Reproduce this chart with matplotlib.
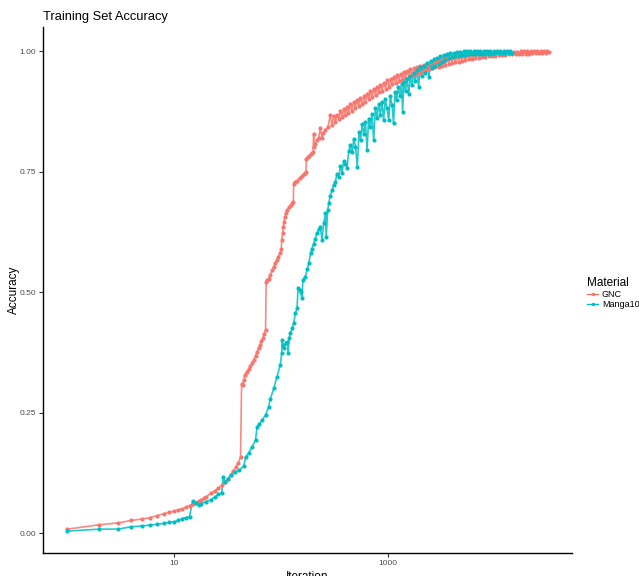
import matplotlib
matplotlib.use("Agg")
import matplotlib.pyplot as plt
from matplotlib.lines import Line2D

materials = ["GNC", "Manga109"]
colors = ["#F8766D", "#00BFC4"]

gnc_iter = [1, 2, 3, 4, 5, 6, 7, 8, 9, 10, 11, 12, 13, 14, 15, 16, 17, 18, 19, 20,
            22, 24, 26, 28, 30, 32, 34, 36, 38, 40, 42, 43, 44, 45, 46, 48, 50, 52, 54, 56,
            58, 60, 62, 64, 66, 68, 70, 72, 73, 75, 77, 80, 83, 86, 89, 92, 95, 98, 101, 102,
            104, 106, 107, 109, 111, 115, 120, 124, 128, 131, 132, 135, 142, 150, 158, 165, 170, 172, 174, 178,
            183, 190, 196, 200, 203, 205, 211, 218, 226, 234, 243, 250, 262, 275, 291, 300,
            312, 324, 337, 350, 362, 375, 390, 402, 415, 430, 445, 460, 480, 499, 515, 535,
            555, 577, 600, 620, 640, 664, 690, 715, 740, 770, 795, 824, 855, 885, 920, 955,
            990, 1030, 1065, 1100, 1140, 1185, 1230, 1275, 1320, 1370, 1415, 1465, 1520, 1575, 1635, 1695,
            1755, 1820, 1885, 1950, 2020, 2095, 2170, 2250, 2330, 2415, 2505, 2600, 2690, 2790, 2890, 3000,
            3110, 3220, 3340, 3460, 3590, 3720, 3860, 4000, 4150, 4300, 4460, 4620, 4790, 4950, 5150, 5330,
            5530, 5730, 5940, 6160, 6380, 6620, 6860, 7100, 7360, 7630, 7910, 8200, 8500, 8820, 9140, 9480,
            9830, 10200, 10570, 10960, 11360, 11780, 12210, 12660, 13130, 13610, 14110, 14630, 15170, 15730, 16310, 16910,
            17530, 18180, 18850, 19540, 20260, 21010, 21780, 22580, 23410, 24270, 25170, 26090, 27050, 28050, 29080, 30150,
            31260, 32000]
gnc_acc = [0.008, 0.017, 0.021, 0.026, 0.029, 0.032, 0.036, 0.040, 0.043, 0.045, 0.048, 0.050, 0.053, 0.057, 0.060, 0.063, 0.066, 0.069, 0.072, 0.075,
           0.082, 0.087, 0.093, 0.099, 0.105, 0.112, 0.120, 0.129, 0.137, 0.146, 0.158, 0.310, 0.308, 0.318, 0.328, 0.335, 0.340, 0.346, 0.352, 0.360,
           0.368, 0.376, 0.384, 0.391, 0.398, 0.405, 0.413, 0.421, 0.521, 0.525, 0.528, 0.536, 0.545, 0.553, 0.560, 0.567, 0.573, 0.580, 0.589, 0.608,
           0.622, 0.636, 0.645, 0.656, 0.663, 0.670, 0.677, 0.681, 0.684, 0.687, 0.725, 0.729, 0.731, 0.737, 0.741, 0.744, 0.746, 0.750, 0.777, 0.780,
           0.782, 0.786, 0.788, 0.790, 0.829, 0.800, 0.808, 0.815, 0.820, 0.840, 0.820, 0.830, 0.836, 0.842, 0.867, 0.846,
           0.866, 0.852, 0.868, 0.860, 0.876, 0.864, 0.880, 0.868, 0.884, 0.872, 0.890, 0.876, 0.894, 0.882, 0.898, 0.886,
           0.902, 0.890, 0.907, 0.895, 0.912, 0.900, 0.917, 0.904, 0.922, 0.908, 0.926, 0.915, 0.930, 0.918, 0.934, 0.922,
           0.940, 0.926, 0.943, 0.932, 0.946, 0.934, 0.950, 0.938, 0.953, 0.941, 0.956, 0.944, 0.959, 0.947, 0.962, 0.950,
           0.964, 0.952, 0.967, 0.955, 0.969, 0.957, 0.972, 0.960, 0.974, 0.962, 0.976, 0.964, 0.978, 0.966, 0.980, 0.968,
           0.982, 0.970, 0.983, 0.972, 0.985, 0.974, 0.986, 0.976, 0.988, 0.977, 0.989, 0.978, 0.990, 0.980, 0.991, 0.981,
           0.992, 0.983, 0.993, 0.984, 0.994, 0.985, 0.995, 0.986, 0.995, 0.987, 0.996, 0.988, 0.996, 0.989, 0.997, 0.990,
           0.997, 0.990, 0.998, 0.991, 0.998, 0.992, 0.998, 0.992, 0.999, 0.993, 0.999, 0.993, 0.999, 0.994, 0.999, 0.994,
           1.000, 0.995, 1.000, 0.995, 1.000, 0.995, 1.000, 0.996, 1.000, 0.996, 1.000, 0.996, 1.000, 0.997, 1.000, 0.997,
           1.000, 0.998]

manga_iter = [1, 2, 3, 4, 5, 6, 7, 8, 9, 10, 11, 12, 13, 14, 15, 16, 17, 18, 20, 22,
              24, 26, 28, 29, 30, 32, 34, 37, 41, 45, 47, 50, 54, 58, 60, 63, 67, 72, 77, 80,
              86, 92, 99, 102, 103, 105, 107, 111, 115, 117, 120, 123, 128, 132, 137, 142, 145, 150, 153, 158,
              161, 170, 177, 183, 190, 196, 203, 210, 218, 226, 234, 243, 252, 262, 266, 275, 281, 291, 302, 313,
              324, 335, 348, 362, 375, 388, 402, 417, 432, 448, 465, 482, 500, 520, 539, 558,
              577, 598, 620, 642, 664, 688, 713, 740, 767, 795, 824, 854, 885, 917, 950, 985,
              1024, 1060, 1100, 1135, 1175, 1215, 1260, 1305, 1350, 1380, 1420, 1470, 1520, 1577, 1630, 1690,
              1750, 1810, 1880, 1949, 2020, 2090, 2170, 2250, 2330, 2434, 2520, 2610, 2710, 2800, 2900, 3000,
              3110, 3220, 3340, 3460, 3590, 3720, 3860, 4000, 4150, 4300, 4460, 4620, 4790, 4950, 5150, 5330,
              5530, 5730, 5940, 6160, 6380, 6620, 6860, 7100, 7360, 7630, 7910, 8200, 8500, 8820, 9140, 9480,
              9830, 10200, 10570, 10960, 11360, 11780, 12210, 12660, 13130, 13610, 14110, 14500]
manga_acc = [0.004, 0.008, 0.008, 0.013, 0.0145, 0.0166, 0.018, 0.020, 0.022, 0.023, 0.026, 0.030, 0.032, 0.034, 0.067, 0.062, 0.058, 0.061, 0.065, 0.069,
             0.074, 0.080, 0.084, 0.117, 0.106, 0.113, 0.120, 0.126, 0.131, 0.139, 0.158, 0.166, 0.179, 0.193, 0.220, 0.226, 0.234, 0.245, 0.262, 0.279,
             0.300, 0.324, 0.349, 0.373, 0.400, 0.390, 0.383, 0.395, 0.397, 0.374, 0.405, 0.414, 0.425, 0.435, 0.456, 0.466, 0.508, 0.505, 0.500, 0.487,
             0.525, 0.532, 0.548, 0.560, 0.580, 0.590, 0.600, 0.611, 0.622, 0.630, 0.636, 0.608, 0.643, 0.663, 0.615, 0.670, 0.684, 0.700, 0.712, 0.722,
             0.728, 0.745, 0.738, 0.762, 0.748, 0.772, 0.766, 0.758, 0.792, 0.806, 0.790, 0.818, 0.802, 0.760, 0.832, 0.815,
             0.848, 0.828, 0.852, 0.795, 0.860, 0.842, 0.870, 0.815, 0.882, 0.862, 0.890, 0.868, 0.894, 0.857, 0.900, 0.882,
             0.857, 0.906, 0.888, 0.850, 0.916, 0.898, 0.925, 0.906, 0.932, 0.874, 0.936, 0.918, 0.942, 0.912, 0.948, 0.930,
             0.954, 0.938, 0.960, 0.926, 0.966, 0.948, 0.970, 0.954, 0.975, 0.947, 0.979, 0.964, 0.983, 0.970, 0.986, 0.974,
             0.989, 0.978, 0.992, 0.982, 0.994, 0.985, 0.996, 0.987, 0.997, 0.989, 0.998, 0.990, 0.999, 0.991, 1.000, 0.992,
             1.000, 0.993, 1.000, 0.993, 1.000, 0.994, 1.000, 0.994, 1.000, 0.995, 1.000, 0.995, 1.000, 0.995, 1.000, 0.995,
             1.000, 0.996, 1.000, 0.996, 1.000, 0.996, 1.000, 0.997, 1.000, 0.997, 1.000, 0.997]

series = [(gnc_iter, gnc_acc), (manga_iter, manga_acc)]

x_ticks = [10, 1000]
x_tick_labels = ["10", "1000"]
y_ticks = [0.0, 0.25, 0.5, 0.75, 1.0]
y_tick_labels = ["0.00", "0.25", "0.50", "0.75", "1.00"]

plt.rcParams['font.family'] = ['Liberation Sans', 'DejaVu Sans']

fig = plt.figure(figsize=(6.39, 5.76), dpi=100)
ax = fig.add_axes([43/639, 1 - 553/576, 529/639, 526/576])

for (xs, ys), col in zip(series, colors):
    ax.plot(xs, ys, color=col, linewidth=1.2, alpha=0.85, zorder=2)
    ax.plot(xs, ys, linestyle='none', marker='o', markersize=3.0, markeredgewidth=0,
            color=col, zorder=3)

ax.set_xscale('log')
ax.set_xlim(10 ** -0.225, 10 ** 4.725)
ax.set_ylim(-0.0415, 1.050)
ax.set_xticks(x_ticks)
ax.set_xticklabels(x_tick_labels)
ax.xaxis.set_minor_locator(matplotlib.ticker.NullLocator())
ax.set_yticks(y_ticks)
ax.set_yticklabels(y_tick_labels)
ax.tick_params(axis='both', length=3, width=0.8, color='#333333',
               labelsize=6, labelcolor='#4D4D4D', pad=2)
for s in ['top', 'right']:
    ax.spines[s].set_visible(False)
for s in ['left', 'bottom']:
    ax.spines[s].set_linewidth(1.0)
    ax.spines[s].set_color('black')

ax.set_title("Training Set Accuracy", loc='left', fontsize=9.3, pad=5)
ax.set_xlabel("Iteration", fontsize=8.5, labelpad=3)
ax.set_ylabel("Accuracy", fontsize=8.5)
ax.yaxis.set_label_coords(-0.043, 0.5)

handles = [Line2D([0], [0], color=c, linewidth=1.0, marker='o', markersize=2.5,
                  markeredgewidth=0) for c in colors]
leg = fig.legend(handles, materials, title="Material", loc='center left',
                 bbox_to_anchor=(581/639, 1 - 293/576), frameon=False,
                 fontsize=6.5, title_fontsize=8.5, handlelength=1.2,
                 handletextpad=0.4, labelspacing=0.15, borderpad=0.2)
leg._legend_box.align = "left"

fig.savefig("out.png", dpi=100)
